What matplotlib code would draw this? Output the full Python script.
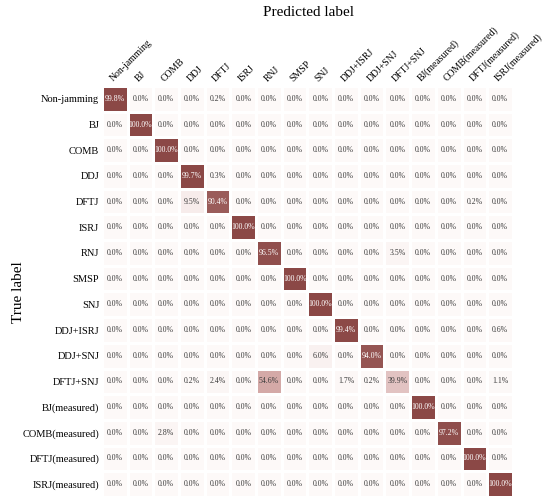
import numpy as np
import matplotlib
matplotlib.use('Agg')
import matplotlib.pyplot as plt
from matplotlib.colors import LinearSegmentedColormap

plt.rcParams['font.family'] = ['Liberation Serif', 'DejaVu Serif']

labels = ['Non-jamming', 'BJ', 'COMB', 'DDJ', 'DFTJ', 'ISRJ', 'RNJ', 'SMSP', 'SNJ',
          'DDJ+ISRJ', 'DDJ+SNJ', 'DFTJ+SNJ', 'BJ(measured)', 'COMB(measured)',
          'DFTJ(measured)', 'ISRJ(measured)']

# non-zero entries of the confusion matrix (row = true, col = predicted), in percent
diag_vals = [99.8, 100.0, 100.0, 99.7, 90.4, 100.0, 96.5, 100.0, 100.0,
             99.4, 94.0, 39.9, 100.0, 97.2, 100.0, 100.0]
off_rows = [0, 3, 4, 4, 6, 9, 10, 11, 11, 11, 11, 11, 11, 13]
off_cols = [4, 4, 3, 14, 11, 15, 8, 3, 4, 6, 9, 10, 15, 2]
off_vals = [0.2, 0.3, 9.5, 0.2, 3.5, 0.6, 6.0, 0.2, 2.4, 54.6, 1.7, 0.2, 1.1, 2.8]

n = len(labels)
cm = np.zeros((n, n))
cm[np.arange(n), np.arange(n)] = diag_vals
cm[off_rows, off_cols] = off_vals

cmap = LinearSegmentedColormap.from_list(
    'cm', [(0.0, '#fdf9f8'), (0.4, '#e2c3c2'), (0.55, '#d4a8a6'), (1.0, '#8b4846')])

fig = plt.figure(figsize=(5.5, 5.03), dpi=100)
ax = fig.add_axes([0.1855, 0.012, 0.747, 0.817])
ax.pcolormesh(cm, cmap=cmap, vmin=0, vmax=100, edgecolors='white', linewidth=0.8)
ax.set_xlim(0, n)
ax.set_ylim(n, 0)

for i in range(n):
    for j in range(n):
        v = cm[i, j]
        color = 'white' if v > 60 else '#3a3a3a'
        ax.text(j + 0.5, i + 0.5, f'{v:.1f}%', ha='center', va='center',
                fontsize=5.6, color=color)

ax.set_xticks(np.arange(n) + 0.5)
ax.set_yticks(np.arange(n) + 0.5)
ax.set_xticklabels(labels, rotation=45, ha='left', va='bottom', rotation_mode='anchor',
                   fontsize=7)
ax.set_yticklabels(labels, fontsize=7.5)
ax.xaxis.tick_top()
ax.tick_params(length=0, pad=2)
for s in ax.spines.values():
    s.set_visible(False)

fig.text(0.56, 0.975, 'Predicted label', ha='center', va='center', fontsize=11)
fig.text(0.033, 0.42, 'True label', ha='center', va='center', rotation=90, fontsize=11)

fig.savefig('out.png', dpi=100)
